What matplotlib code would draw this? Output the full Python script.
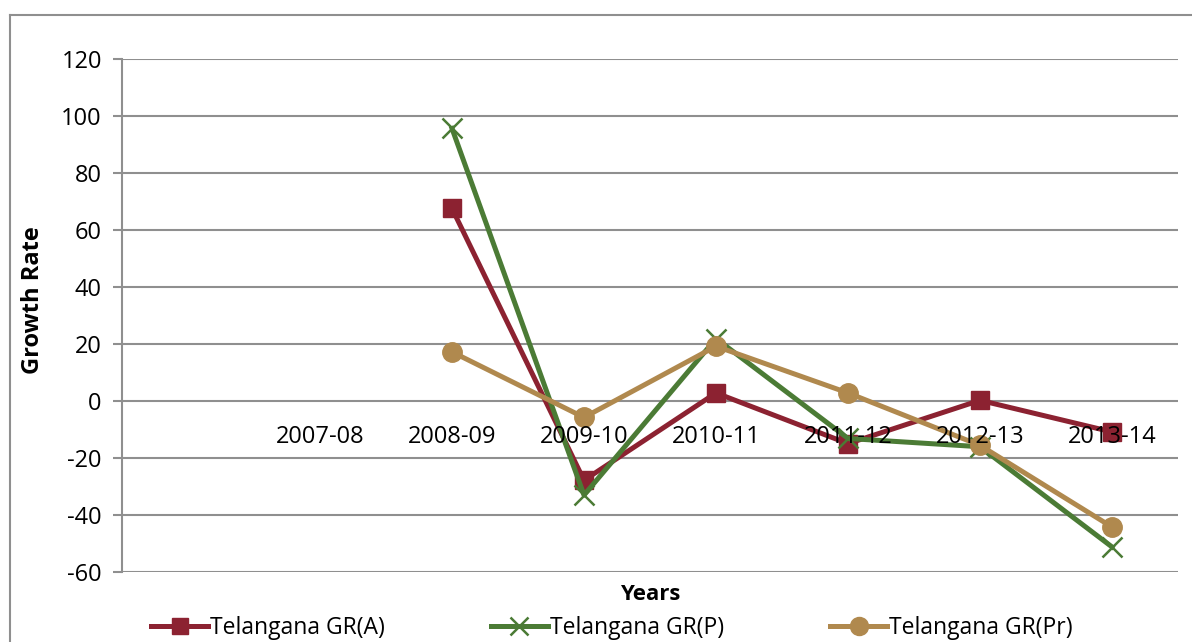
import matplotlib
matplotlib.use("Agg")
import matplotlib.pyplot as plt
from matplotlib.lines import Line2D
import matplotlib.transforms as mtransforms

plt.rcParams['font.family'] = ['Open Sans', 'DejaVu Sans']

# Category axis (leading blank slot, as in the source worksheet)
years = ["", "2007-08", "2008-09", "2009-10", "2010-11", "2011-12", "2012-13", "2013-14"]

# Growth rates (%); None where no value exists
gr_a = [None, None, 67.6, -27.9, 2.8, -15.0, 0.2, -10.9]
gr_p = [None, None, 95.7, -33.1, 21.9, -13.2, -16.1, -51.3]
gr_pr = [None, None, 17.2, -5.8, 19.2, 2.8, -15.6, -44.3]

yticks = [-60, -40, -20, 0, 20, 40, 60, 80, 100, 120]

red = "#8C2231"
green = "#4B7B35"
tan = "#B0894E"
grid_c = "#8F8F8F"

W, H = 1192, 642
fig = plt.figure(figsize=(W / 100, H / 100), dpi=100)
fig.patch.set_facecolor("white")

ax = fig.add_axes([122 / W, 1 - 571.7 / H, (1178 - 122) / W, (571.7 - 59.3) / H])
ax.set_xlim(-0.5, len(years) - 0.5)
ax.set_ylim(-60, 120)

for s in ["top", "right", "bottom"]:
    ax.spines[s].set_visible(False)
ax.spines["left"].set_color(grid_c)
ax.spines["left"].set_linewidth(1.5)

ax.set_yticks(yticks)
ax.set_yticklabels([str(v) for v in yticks], fontsize=17)
ax.tick_params(axis="y", direction="out", length=6.5, width=1.5, color=grid_c, pad=8)
ax.set_xticks([])
ax.yaxis.grid(True, color=grid_c, linewidth=1.5)
ax.set_axisbelow(True)


def series(vals):
    xs = [i for i, v in enumerate(vals) if v is not None]
    ys = [v for v in vals if v is not None]
    return xs, ys


xa, ya = series(gr_a)
xp, yp = series(gr_p)
xr, yr = series(gr_pr)

ax.plot(xa, ya, color=red, lw=3.6, marker="s", ms=13, mfc=red, mec=red,
        label="Telangana GR(A)", zorder=3)
ax.plot(xp, yp, color=green, lw=3.6, marker="x", ms=14, mew=1.8, mec=green,
        label="Telangana GR(P)", zorder=4)
ax.plot(xr, yr, color=tan, lw=3.6, marker="o", ms=14, mfc=tan, mec=tan,
        label="Telangana GR(Pr)", zorder=5)

# Category labels sit just beneath the zero line, drawn over the series
lab_tr = mtransforms.offset_copy(ax.transData, fig=fig, x=0, y=-26, units="points")
for i, lab in enumerate(years):
    ax.text(i, 0, lab, transform=lab_tr, ha="center", va="center", fontsize=17,
            color="black", zorder=7)

fig.text(33 / W, 1 - 300 / H, "Growth Rate", rotation=90, ha="center", va="center",
         fontsize=17, fontweight="bold")
fig.text(650 / W, 1 - 594 / H, "Years", ha="center", va="center",
         fontsize=16, fontweight="bold")

# Legend across the bottom
h1 = Line2D([], [], color=red, lw=3.6, marker="s", ms=12, mfc=red, mec=red)
h2 = Line2D([], [], color=green, lw=3.6, marker="x", ms=13, mew=1.8, mec=green)
h3 = Line2D([], [], color=tan, lw=3.6, marker="o", ms=13, mfc=tan, mec=tan)
fig.legend([h1, h2, h3], ["Telangana GR(A)", "Telangana GR(P)", "Telangana GR(Pr)"],
           loc="center", bbox_to_anchor=(612 / W, 1 - 628 / H), ncol=3, frameon=False,
           fontsize=16.5, handlelength=2.5, handletextpad=0.1, columnspacing=4.6,
           borderaxespad=0, borderpad=0)

# Outer chart frame
fig.add_artist(Line2D([10 / W, 10 / W], [0, 1 - 15 / H], transform=fig.transFigure,
                      color=grid_c, lw=1.5))
fig.add_artist(Line2D([10 / W, 1], [1 - 15 / H, 1 - 15 / H], transform=fig.transFigure,
                      color=grid_c, lw=1.5))

fig.savefig("out.png", dpi=100, facecolor="white")
